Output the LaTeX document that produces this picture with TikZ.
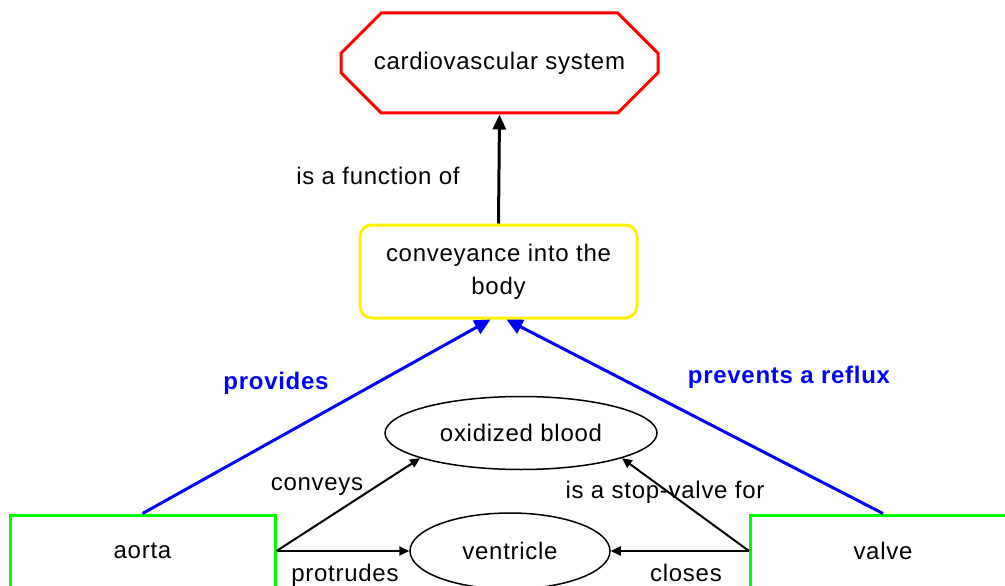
\documentclass[tikz,border=0pt]{standalone}
\usepackage{fontspec}
\setmainfont{Liberation Sans}[LetterSpace=3]
\usetikzlibrary{shapes.misc,shapes.geometric,arrows.meta}

\begin{document}
\begin{tikzpicture}[x=1pt,y=-1pt,
  every node/.style={font=\fontsize{24}{33}\selectfont, inner sep=0pt},
  octo/.style={draw=red, line width=3pt, chamfered rectangle, chamfered rectangle xsep=29pt, chamfered rectangle ysep=29pt, minimum width=317pt, minimum height=100pt},
  roundbox/.style={draw=yellow, line width=3pt, rounded corners=12pt, align=center, minimum width=277pt, minimum height=93pt},
  oval/.style={draw, line width=1.5pt, ellipse},
  greenbox/.style={draw=green, line width=3pt, minimum width=265pt, minimum height=72pt},
  mainarrow/.style={line width=3pt, -{Triangle[length=15pt,width=13pt]}},
  bluearrow/.style={draw=blue, line width=3pt, -{Triangle[length=16pt,width=15pt]}},
  smallarrow/.style={line width=2pt, -{Triangle[length=10pt,width=9pt]}},
  bluelabel/.style={text=blue, font=\fontsize{24}{33}\selectfont\bfseries}
]
\useasboundingbox (0,0) rectangle (1005,586);

% concepts
\node[octo] (cvs) at (499.5,63) {cardiovascular system};
\node[roundbox] (conv) at (498.5,271.5) {conveyance into the\\body};
\node[oval, minimum width=272pt, minimum height=73pt] (oxy) at (521,433) {oxidized blood};
\node[oval, minimum width=200pt, minimum height=76pt] (vent) at (510,551) {ventricle};
\node[greenbox] (aorta) at (142.5,551) {aorta};
\node[greenbox] (valve) at (883,551) {valve};

% links
\draw[mainarrow] (conv.north) -- (cvs.south);
\draw[bluearrow] (aorta.north) -- ([xshift=-8pt]conv.south);
\draw[bluearrow] (valve.north) -- ([xshift=8pt]conv.south);
\draw[smallarrow] (aorta.east) -- (oxy.194);
\draw[smallarrow] (aorta.east) -- (vent.west);
\draw[smallarrow] (valve.west) -- (vent.east);
\draw[smallarrow] (valve.west) -- (oxy.346);

% link labels
\node (lfunc) at (378,176) {is a function of};
\node[bluelabel] (lprov) at (276,383) {provides};
\node[bluelabel] (lprev) at (789,377) {prevents a reflux};
\node (lconv) at (317,487) {conveys};
\node (lprot) at (345,575) {protrudes};
\node (lstop) at (665,492) {is a stop-valve for};
\node (lclos) at (686,573) {closes};
\end{tikzpicture}
\end{document}
